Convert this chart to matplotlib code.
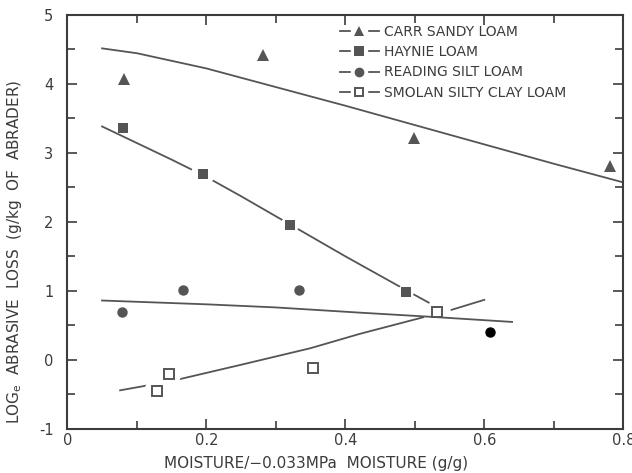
import matplotlib
matplotlib.use("Agg")
import matplotlib.pyplot as plt
from matplotlib.ticker import MultipleLocator, FixedLocator
from matplotlib.lines import Line2D
from matplotlib.legend_handler import HandlerTuple

# ---------------- data ----------------
series_names = ["CARR SANDY LOAM", "HAYNIE LOAM", "READING SILT LOAM",
                "SMOLAN SILTY CLAY LOAM"]

carr_x = [0.082, 0.282, 0.499, 0.781]
carr_y = [4.06, 4.42, 3.21, 2.81]
haynie_x = [0.080, 0.195, 0.320, 0.487]
haynie_y = [3.36, 2.69, 1.95, 0.98]
reading_x = [0.079, 0.167, 0.333, 0.608]
reading_y = [0.69, 1.01, 1.01, 0.41]
smolan_x = [0.129, 0.146, 0.354, 0.532]
smolan_y = [-0.45, -0.20, -0.11, 0.69]

# fitted curves
carr_fit_x = [0.05, 0.1, 0.2, 0.3, 0.4, 0.5, 0.6, 0.7, 0.8]
carr_fit_y = [4.51, 4.44, 4.22, 3.95, 3.68, 3.40, 3.12, 2.84, 2.57]
haynie_fit_x = [0.05, 0.1, 0.15, 0.2, 0.25, 0.3, 0.35, 0.4, 0.45, 0.5, 0.52]
haynie_fit_y = [3.38, 3.14, 2.90, 2.65, 2.37, 2.08, 1.79, 1.50, 1.22, 0.94, 0.83]
reading_fit_x = [0.05, 0.2, 0.3, 0.42, 0.53, 0.64]
reading_fit_y = [0.86, 0.805, 0.76, 0.685, 0.62, 0.55]
smolan_fit_x = [0.076, 0.126, 0.163, 0.25, 0.35, 0.42, 0.494, 0.548, 0.60]
smolan_fit_y = [-0.44, -0.35, -0.275, -0.07, 0.17, 0.375, 0.57, 0.71, 0.87]

x_ticks = [0, 0.2, 0.4, 0.6, 0.8]
x_tick_labels = ["0", "0.2", "0.4", "0.6", "0.8"]
y_ticks = [-1, 0, 1, 2, 3, 4, 5]
y_tick_labels = ["-1", "0", "1", "2", "3", "4", "5"]

# ---------------- style ----------------
INK = "#3c3c3c"
MARK = "#555555"
LW = 1.3
haynie_halo = [0, 17, 13, 11.5]
smolan_halo = [18, 18, 12, 20]

plt.rcParams["font.family"] = ["DejaVu Sans"]

fig = plt.figure(figsize=(6.32, 4.73), dpi=100)
ax = fig.add_axes([0.1065, 0.093, 0.8797, 0.8763])

# Smolan
ax.plot(smolan_fit_x, smolan_fit_y, color=MARK, lw=LW, zorder=2.0)
ax.scatter(smolan_x, smolan_y, s=[h ** 2 for h in smolan_halo], c="white",
           marker="o", linewidths=0, zorder=2.05)
# Haynie
ax.plot(haynie_fit_x, haynie_fit_y, color=MARK, lw=LW, zorder=2.1)
ax.scatter(haynie_x, haynie_y, s=[h ** 2 for h in haynie_halo], c="white",
           marker="o", linewidths=0, zorder=2.15)
# Carr and Reading
ax.plot(carr_fit_x, carr_fit_y, color=MARK, lw=LW, zorder=2.2)
ax.plot(reading_fit_x, reading_fit_y, color=MARK, lw=LW, zorder=2.3)

# markers
ax.plot(carr_x, carr_y, "^", color=MARK, ms=8, mew=0, zorder=5)
ax.plot(haynie_x, haynie_y, "s", color=MARK, ms=7, mew=0, zorder=5)
ax.plot(reading_x[:-1], reading_y[:-1], "o", color=MARK, ms=7.5, mew=0, zorder=5)
ax.plot(reading_x[-1:], reading_y[-1:], "o", color="black", ms=7.5, mew=0, zorder=5)
ax.plot(smolan_x, smolan_y, "s", mfc="white", mec=MARK, ms=6.5, mew=1.4, zorder=5)

# axes
ax.set_xlim(0, 0.8)
ax.set_ylim(-1, 5)
ax.xaxis.set_major_locator(FixedLocator(x_ticks))
ax.set_xticklabels(x_tick_labels)
ax.xaxis.set_minor_locator(MultipleLocator(0.1))
ax.yaxis.set_major_locator(FixedLocator(y_ticks))
ax.set_yticklabels(y_tick_labels)
ax.yaxis.set_minor_locator(MultipleLocator(0.5))
ax.tick_params(which="both", direction="in", top=True, right=True,
               color=INK, width=1.2, labelcolor=INK, labelsize=10.5)
ax.tick_params(which="major", length=7)
ax.tick_params(which="minor", length=6)
ax.tick_params(axis="x", pad=3)
ax.tick_params(axis="y", pad=10)
for sp in ax.spines.values():
    sp.set_color(INK)
    sp.set_linewidth(1.5)

ax.set_xlabel("MOISTURE/\u22120.033MPa  MOISTURE (g/g)", color=INK, fontsize=11)
ax.xaxis.set_label_coords(0.447, -0.064)
ax.set_ylabel(r"LOG$_\mathregular{e}$  ABRASIVE  LOSS  (g/kg  OF  ABRADER)",
              color=INK, fontsize=11)
ax.yaxis.set_label_coords(-0.078, 0.427)

# legend: dash - marker - dash
def handle(marker, filled):
    line = Line2D([], [], color=MARK, lw=LW)
    halo = Line2D([], [], ls="none", marker="s", ms=11, mfc="white", mec="white")
    if filled:
        mk = Line2D([], [], ls="none", marker=marker, ms=7, color=MARK, mew=0)
    else:
        mk = Line2D([], [], ls="none", marker=marker, ms=6, mfc="white",
                    mec=MARK, mew=1.4)
    return (line, halo, mk)

handles = [handle("^", True), handle("s", True), handle("o", True), handle("s", False)]
leg = ax.legend(handles, series_names,
                handler_map={tuple: HandlerTuple(ndivide=1, pad=0)},
                loc="upper left", bbox_to_anchor=(0.475, 0.995), frameon=False,
                fontsize=10, labelcolor=INK, handlelength=2.8, handletextpad=0.4,
                labelspacing=0.45, borderaxespad=0.2)

fig.savefig("out.png", dpi=100)
